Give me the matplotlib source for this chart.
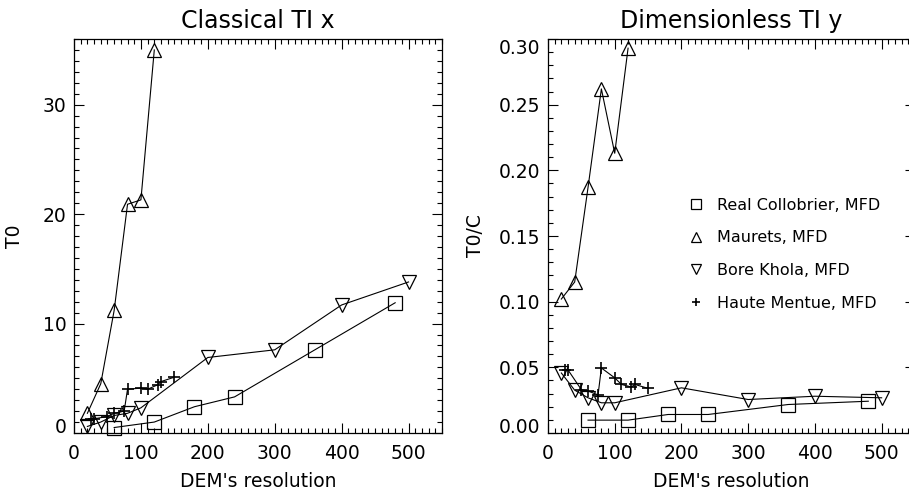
import numpy as np
import matplotlib
matplotlib.use("Agg")
import matplotlib.pyplot as plt
from matplotlib.lines import Line2D
from matplotlib.ticker import MultipleLocator

# --- data ---
x_collobrier = [60, 120, 180, 240, 360, 480]
t0_collobrier = [0.5, 1.0, 2.4, 3.3, 7.6, 11.9]
tc_collobrier = [0.0098, 0.0098, 0.0141, 0.0141, 0.0217, 0.0242]

x_maurets = [20, 40, 60, 80, 100, 120]
t0_maurets = [1.8, 4.5, 11.2, 20.9, 21.3, 35.0]
tc_maurets = [0.102, 0.115, 0.187, 0.262, 0.213, 0.293]

x_khola = [20, 40, 60, 80, 100, 200, 300, 400, 500]
t0_khola = [0.6, 1.0, 1.6, 1.8, 2.3, 6.9, 7.6, 11.7, 13.8]
tc_khola = [0.0457, 0.0326, 0.0268, 0.023, 0.023, 0.0344, 0.0255, 0.028, 0.0268]

x_mentue = [25, 30, 50, 60, 75, 80, 100, 110, 125, 130, 150]
t0_mentue = [1.3, 1.3, 1.5, 1.8, 2.0, 4.0, 4.1, 4.0, 4.4, 4.7, 5.1]
tc_mentue = [0.048, 0.048, 0.033, 0.032, 0.029, 0.0495, 0.042, 0.037, 0.035, 0.037, 0.034]

labels = ["Real Collobrier, MFD", "Maurets, MFD", "Bore Khola, MFD", "Haute Mentue, MFD"]
markers = ["s", "^", "v", "+"]
sizes = [9.5, 10, 10, 9]

plt.rcParams['font.family'] = ['DejaVu Sans']

W, H = 909, 492
fig = plt.figure(figsize=(W / 100, H / 100), dpi=100)
ax1 = fig.add_axes([74 / W, 1 - 433 / H, 368 / W, 394 / H])
ax2 = fig.add_axes([548 / W, 1 - 433 / H, 367 / W, 394 / H])

xs = [x_collobrier, x_maurets, x_khola, x_mentue]
left = [t0_collobrier, t0_maurets, t0_khola, t0_mentue]
right = [tc_collobrier, tc_maurets, tc_khola, tc_mentue]

for ax, ys in [(ax1, left), (ax2, right)]:
    for x, y, m, s in zip(xs, ys, markers, sizes):
        ax.plot(x, y, color='k', lw=0.8, marker=m, ms=s, mfc='none',
                mec='k', mew=0.9 if m != '+' else 1.2, clip_on=False)
    ax.set_xlim(0, 550)
    ax.xaxis.set_major_locator(MultipleLocator(100))
    ax.xaxis.set_minor_locator(MultipleLocator(10))
    ax.tick_params(which='both', direction='in', top=True, right=True,
                   labelsize=13.5, width=0.8)
    ax.tick_params(which='major', length=7)
    ax.tick_params(axis='x', which='major', pad=8)
    ax.tick_params(axis='y', which='major', pad=5.5)
    ax.tick_params(which='minor', length=3.5)
    for sp in ax.spines.values():
        sp.set_linewidth(0.9)
    ax.set_xlabel("DEM's resolution", fontsize=13.5)
    ax.xaxis.set_label_coords(0.5, -0.098)

ax1.set_ylim(0, 36)
ax1.set_yticks([0, 10, 20, 30])
ax1.yaxis.set_minor_locator(MultipleLocator(1))
ax1.set_ylabel("T0", fontsize=13.5)
ax1.yaxis.set_label_coords(-0.135, 0.5)
ax1.set_title("Classical TI x", fontsize=17, pad=8)

ax2.set_ylim(0, 0.30)
ax2.set_yticks([0, 0.05, 0.10, 0.15, 0.20, 0.25, 0.30])
ax2.set_yticklabels(["0.00", "0.05", "0.10", "0.15", "0.20", "0.25", "0.30"])
ax2.yaxis.set_minor_locator(MultipleLocator(0.01))
ax2.set_ylabel("T0/C", fontsize=13.5)
ax2.yaxis.set_label_coords(-0.172, 0.5)
ax2.set_title("Dimensionless TI y", fontsize=17, pad=8)

# edge tick labels kept inside the axis box
ax1.yaxis.get_major_ticks()[0].label1.set_verticalalignment('baseline')
ax2.yaxis.get_major_ticks()[0].label1.set_verticalalignment('baseline')
ax2.yaxis.get_major_ticks()[-1].label1.set_verticalalignment('top')

handles = [Line2D([], [], ls='none', marker=m, ms=s - 3, mfc='none', mec='k',
                  mew=0.9 if m != '+' else 1.2, color='k')
           for m, s in zip(markers, sizes)]
ax2.legend(handles, labels, frameon=False, loc='upper left',
           bbox_to_anchor=(0.36, 0.617), fontsize=11.5, handlelength=1.0,
           handletextpad=0.8, labelspacing=1.1, borderpad=0)

fig.savefig("out.png", dpi=100)
